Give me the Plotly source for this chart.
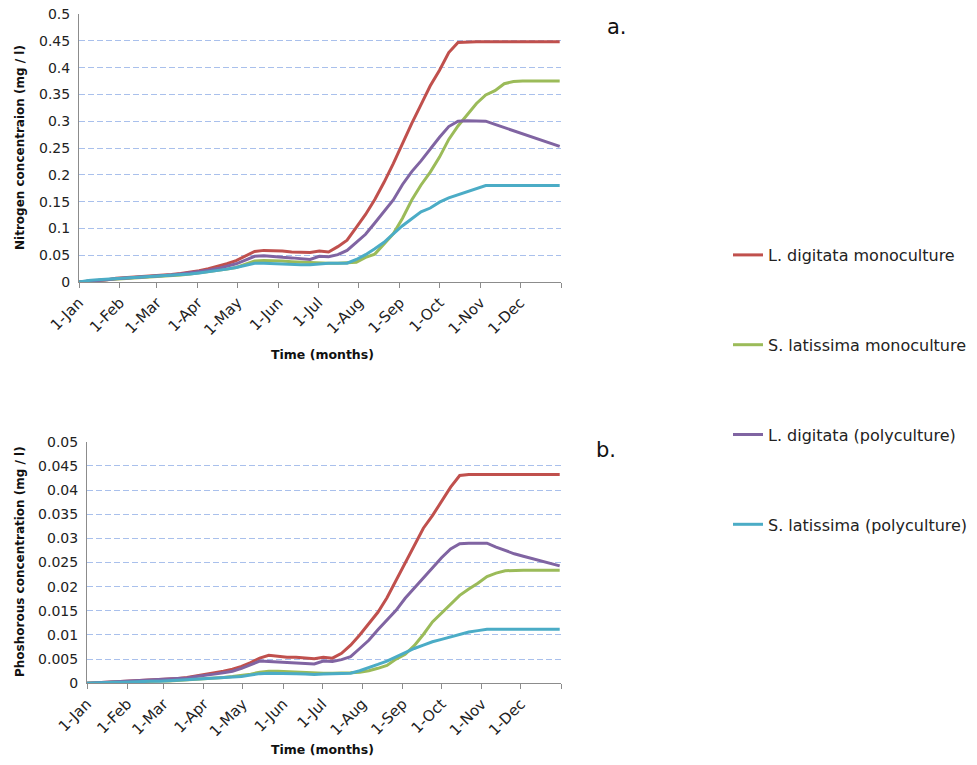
import pandas as pd
import plotly.graph_objects as go

# weekly sampling dates (x grid)
dates = pd.date_range("2001-01-01", periods=53, freq="7D")

series_names = ["L. digitata monoculture", "S. latissima monoculture",
                "L. digitata (polyculture)", "S. latissima (polyculture)"]
series_colors = ["#C0504D", "#9BBB59", "#8064A2", "#4BACC6"]

# Nitrogen concentration (mg / l)
n_ld_mono = [0, 0.001, 0.002, 0.004, 0.007, 0.008, 0.009, 0.010, 0.011, 0.012, 0.014, 0.016, 0.018,
             0.021, 0.025, 0.029, 0.034, 0.040, 0.048, 0.057, 0.059, 0.059, 0.058, 0.056, 0.055, 0.055,
             0.058, 0.056, 0.066, 0.078, 0.102, 0.126, 0.154, 0.186, 0.221, 0.259, 0.296, 0.331, 0.366,
             0.395, 0.428, 0.447, 0.448, 0.448, 0.448, 0.448, 0.448, 0.448, 0.448, 0.448, 0.448, 0.448,
             0.448]
n_sl_mono = [0, 0.002, 0.003, 0.004, 0.005, 0.006, 0.007, 0.008, 0.009, 0.010, 0.011, 0.013, 0.015,
             0.017, 0.019, 0.021, 0.024, 0.027, 0.033, 0.039, 0.040, 0.040, 0.039, 0.038, 0.037, 0.036,
             0.035, 0.035, 0.035, 0.036, 0.037, 0.046, 0.052, 0.071, 0.090, 0.119, 0.153, 0.181, 0.205,
             0.233, 0.266, 0.291, 0.313, 0.333, 0.349, 0.357, 0.370, 0.374, 0.375, 0.375, 0.375, 0.375,
             0.375]
n_ld_poly = [0, 0.001, 0.002, 0.004, 0.006, 0.007, 0.008, 0.009, 0.010, 0.011, 0.013, 0.015, 0.017,
             0.019, 0.022, 0.025, 0.029, 0.034, 0.041, 0.048, 0.049, 0.047, 0.046, 0.045, 0.043, 0.042,
             0.048, 0.047, 0.051, 0.059, 0.074, 0.089, 0.110, 0.131, 0.153, 0.182, 0.206, 0.226, 0.249,
             0.270, 0.290, 0.300, 0.301, 0.301, 0.300, 0.294, 0.288, 0.282, 0.277, 0.271, 0.264, 0.259,
             0.253]
n_sl_poly = [0, 0.003, 0.004, 0.005, 0.006, 0.007, 0.008, 0.009, 0.010, 0.011, 0.012, 0.014, 0.015,
             0.017, 0.019, 0.021, 0.024, 0.027, 0.031, 0.035, 0.035, 0.034, 0.033, 0.033, 0.032, 0.032,
             0.034, 0.035, 0.035, 0.035, 0.042, 0.051, 0.062, 0.074, 0.090, 0.105, 0.118, 0.131, 0.138,
             0.149, 0.157, 0.163, 0.168, 0.174, 0.180, 0.180, 0.180, 0.180, 0.180, 0.180, 0.180, 0.180,
             0.180]

# Phosphorous concentration (mg / l)
p_ld_mono = [0, 0.0001, 0.0002, 0.0003, 0.0003, 0.0004, 0.0005, 0.0006, 0.0007, 0.0008, 0.0010, 0.0012,
             0.0015, 0.0018, 0.0021, 0.0025, 0.0029, 0.0035, 0.0043, 0.0052, 0.0058, 0.0056, 0.0054,
             0.0054, 0.0052, 0.0051, 0.0054, 0.0052, 0.0062, 0.0079, 0.0100, 0.0123, 0.0147, 0.0177,
             0.0213, 0.0250, 0.0288, 0.0321, 0.0347, 0.0376, 0.0406, 0.0430, 0.0432, 0.0432, 0.0432,
             0.0432, 0.0432, 0.0432, 0.0432, 0.0432, 0.0432, 0.0432, 0.0432]
p_sl_mono = [0, 0.0001, 0.0001, 0.0002, 0.0002, 0.0003, 0.0003, 0.0004, 0.0005, 0.0005, 0.0006, 0.0007,
             0.0008, 0.0009, 0.0011, 0.0012, 0.0014, 0.0016, 0.0019, 0.0023, 0.0025, 0.0025, 0.0024,
             0.0024, 0.0023, 0.0022, 0.0021, 0.0021, 0.0021, 0.0022, 0.0023, 0.0026, 0.0031, 0.0037,
             0.0050, 0.0060, 0.0078, 0.0101, 0.0127, 0.0145, 0.0163, 0.0182, 0.0195, 0.0207, 0.0221,
             0.0228, 0.0233, 0.0234, 0.0234, 0.0234, 0.0234, 0.0234, 0.0234]
p_ld_poly = [0, 0.0001, 0.0002, 0.0003, 0.0003, 0.0004, 0.0005, 0.0006, 0.0007, 0.0008, 0.0009, 0.0011,
             0.0014, 0.0016, 0.0019, 0.0022, 0.0025, 0.0031, 0.0038, 0.0046, 0.0045, 0.0044, 0.0043,
             0.0042, 0.0041, 0.0040, 0.0046, 0.0045, 0.0049, 0.0055, 0.0072, 0.0089, 0.0111, 0.0132,
             0.0151, 0.0176, 0.0197, 0.0218, 0.0240, 0.0260, 0.0278, 0.0289, 0.0290, 0.0290, 0.0290,
             0.0282, 0.0275, 0.0268, 0.0263, 0.0258, 0.0252, 0.0248, 0.0243]
p_sl_poly = [0, 0.0001, 0.0001, 0.0002, 0.0002, 0.0003, 0.0003, 0.0004, 0.0004, 0.0005, 0.0006, 0.0007,
             0.0008, 0.0009, 0.0010, 0.0011, 0.0012, 0.0014, 0.0017, 0.0020, 0.0021, 0.0021, 0.0021,
             0.0020, 0.0019, 0.0018, 0.0019, 0.0020, 0.0021, 0.0021, 0.0026, 0.0032, 0.0039, 0.0046,
             0.0055, 0.0064, 0.0072, 0.0079, 0.0086, 0.0091, 0.0096, 0.0102, 0.0106, 0.0109, 0.0112,
             0.0112, 0.0112, 0.0112, 0.0112, 0.0112, 0.0112, 0.0112, 0.0112]

month_ticks = ["2001-01-01", "2001-02-01", "2001-03-01", "2001-04-01", "2001-05-01", "2001-06-01",
               "2001-07-01", "2001-08-01", "2001-09-01", "2001-10-01", "2001-11-01", "2001-12-01",
               "2002-01-01"]
month_labels = ["1-Jan", "1-Feb", "1-Mar", "1-Apr", "1-May", "1-Jun", "1-Jul", "1-Aug", "1-Sep",
                "1-Oct", "1-Nov", "1-Dec", ""]

n_ticks = [0, 0.05, 0.1, 0.15, 0.2, 0.25, 0.3, 0.35, 0.4, 0.45, 0.5]
n_tick_labels = ["0", "0.05", "0.1", "0.15", "0.2", "0.25", "0.3", "0.35", "0.4", "0.45", "0.5"]
p_ticks = [0, 0.005, 0.01, 0.015, 0.02, 0.025, 0.03, 0.035, 0.04, 0.045, 0.05]
p_tick_labels = ["0", "0.005", "0.01", "0.015", "0.02", "0.025", "0.03", "0.035", "0.04", "0.045", "0.05"]

FONT = "DejaVu Sans"
W, H = 977, 765

fig = go.Figure()
top_series = [n_ld_mono, n_sl_mono, n_ld_poly, n_sl_poly]
bot_series = [p_ld_mono, p_sl_mono, p_ld_poly, p_sl_poly]
for i, name in enumerate(series_names):
    fig.add_trace(go.Scatter(x=dates, y=top_series[i], mode="lines", name=name,
                             line=dict(color=series_colors[i], width=3),
                             legendgroup=name, showlegend=True, xaxis="x", yaxis="y"))
for i, name in enumerate(series_names):
    fig.add_trace(go.Scatter(x=dates, y=bot_series[i], mode="lines", name=name,
                             line=dict(color=series_colors[i], width=3),
                             legendgroup=name, showlegend=False, xaxis="x2", yaxis="y2"))

def px_x(p):
    return p / W

def px_y(p):
    return 1 - p / H

axis_col = "#8C8C8C"
grid_col = "#A9C0EC"
xcommon = dict(type="date", range=["2001-01-01", "2002-01-01"], tickvals=month_ticks,
               ticktext=month_labels, tickangle=-45, ticks="outside", ticklen=5, tickcolor=axis_col,
               showline=True, linecolor=axis_col, linewidth=1, showgrid=False, zeroline=False,
               automargin=False, tickfont=dict(family=FONT, size=15, color="#222"))
ycommon = dict(showline=True, linecolor=axis_col, linewidth=1, showgrid=True, gridcolor=grid_col,
               griddash="6px,3px", gridwidth=1, zeroline=False, ticks="", ticklabelstandoff=5,
               automargin=False, tickfont=dict(family=FONT, size=14, color="#222"))

fig.update_layout(
    width=W, height=H, margin=dict(l=0, r=0, t=0, b=0, autoexpand=False),
    paper_bgcolor="white", plot_bgcolor="white",
    xaxis=dict(domain=[px_x(79), px_x(561)], anchor="y", **xcommon),
    yaxis=dict(domain=[px_y(282), px_y(14)], anchor="x", range=[0, 0.5],
               tickvals=n_ticks, ticktext=n_tick_labels, **ycommon),
    xaxis2=dict(domain=[px_x(87), px_x(561)], anchor="y2", **xcommon),
    yaxis2=dict(domain=[px_y(683.3), px_y(441.7)], anchor="x2", range=[0, 0.05],
                tickvals=p_ticks, ticktext=p_tick_labels, **ycommon),
    legend=dict(x=px_x(728), y=px_y(238), xanchor="left", yanchor="top",
                traceorder="grouped", tracegroupgap=66,
                font=dict(family=FONT, size=16, color="#222"), bgcolor="rgba(0,0,0,0)"),
    showlegend=True,
)

ann = [
    dict(text="<b>Nitrogen concentraion (mg / l)</b>", x=px_x(20), y=px_y(148), textangle=-90,
         font=dict(size=12)),
    dict(text="<b>Time (months)</b>", x=px_x(322), y=px_y(354), font=dict(size=12.5)),
    dict(text="<b>Phoshorous concentration (mg / l)</b>", x=px_x(20), y=px_y(562), textangle=-90,
         font=dict(size=12)),
    dict(text="<b>Time (months)</b>", x=px_x(322), y=px_y(749), font=dict(size=12.5)),
    dict(text="a.", x=px_x(617), y=px_y(27), font=dict(size=21)),
    dict(text="b.", x=px_x(606), y=px_y(450), font=dict(size=21)),
]
for a in ann:
    f = a.pop("font")
    fig.add_annotation(xref="paper", yref="paper", showarrow=False, xanchor="center", yanchor="middle",
                       font=dict(family=FONT, color="#111", **f), **a)

fig.write_html("out.html", config={"displayModeBar": False},
               post_script="document.body.style.margin='0';")
